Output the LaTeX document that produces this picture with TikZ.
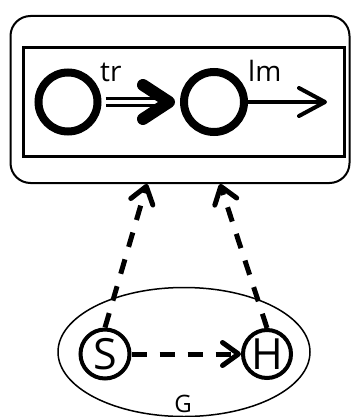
\documentclass[tikz,border=0pt]{standalone}
\usepackage{fontspec}
\setmainfont{Open Sans}
\usetikzlibrary{arrows.meta,shapes.geometric,calc}
\begin{document}
\begin{tikzpicture}[x=1pt,y=-1pt,
  ring/.style={circle, draw, line width=8pt, minimum size=59pt, inner sep=0pt},
  smallring/.style={circle, draw, line width=4pt, minimum size=49pt, inner sep=0pt, font=\fontsize{43}{43}\selectfont},
  dashconn/.style={line width=5pt, dash pattern=on 15pt off 13pt, -{Straight Barb[length=16pt,width=23pt,round]}},
  lbl/.style={inner sep=0pt, anchor=base west, font=\fontsize{28}{28}\selectfont}]
\useasboundingbox (0,0) rectangle (351,417);
% top boxes
\node[draw, rounded corners=20pt, line width=2pt, minimum width=339pt, minimum height=167pt, inner sep=0pt] (outer) at (180,99.5) {};
\node[draw, line width=3pt, minimum width=321pt, minimum height=108pt, inner sep=0pt] (inner) at (183.5,102) {};
\node[ring] (c1) at (68,102) {};
\node[ring, minimum size=60pt] (c2) at (214,102) {};
\node[lbl] (tr) at (100,82) {tr};
\node[lbl] (lm) at (248,82) {lm};
% tr double arrow
\draw[line width=3pt, double, double distance=3.5pt, shorten <=4pt, shorten >=14pt] (c1.east) -- (c2.west);
\draw[line width=12pt, line cap=round, line join=round]
  ($(c2.west)+(-37,-17)$) -- ($(c2.west)+(-11,0)$) -- ($(c2.west)+(-37,17)$);
% lm arrow
\coordinate (lmend) at (327,102);
\draw[line width=4pt, -{Straight Barb[length=26pt,width=28pt,round]}] (c2.east) -- (lmend);
% bottom
\node[ellipse, draw, line width=1.5pt, minimum width=252pt, minimum height=129pt, inner sep=0pt] (G) at (184,352) {};
\node[smallring] (S) at (105,354) {S};
\node[smallring, minimum size=48pt] (H) at (267,354) {H};
\node[anchor=base, inner sep=0pt, font=\fontsize{24}{24}\selectfont] (glabel) at (183,412) {G};
\coordinate (t1) at (147,184);
\coordinate (t2) at (220,184);
\draw[dashconn] (S.north) -- (t1);
\draw[dashconn] (H.north) -- (t2);
\draw[dashconn] (S.east) -- (H.west);
\end{tikzpicture}
\end{document}
